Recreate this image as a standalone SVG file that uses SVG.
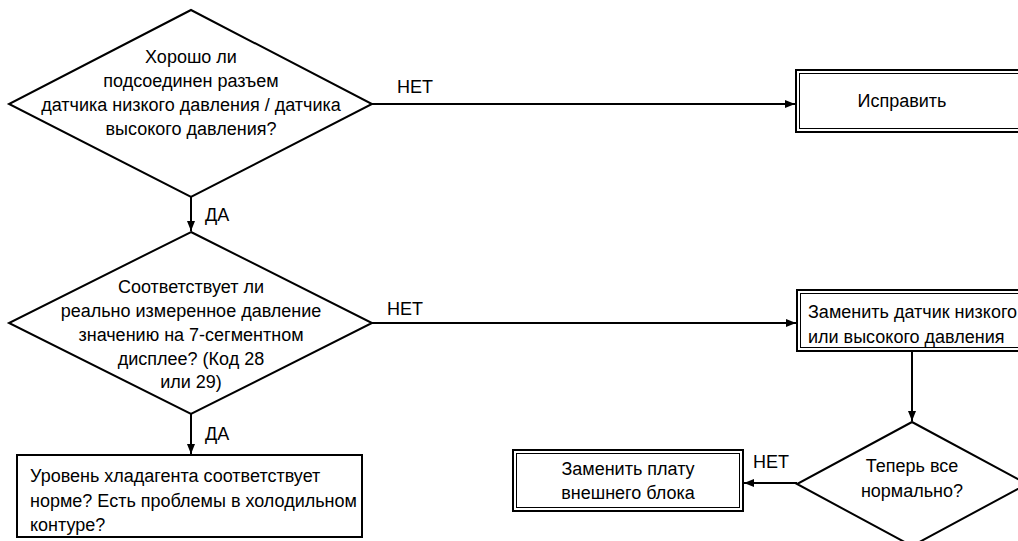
<svg xmlns="http://www.w3.org/2000/svg" width="1018" height="541" viewBox="0 0 1018 541">
<defs>
<style>
.t{font-family:"Liberation Sans Narrow","Arial Narrow","Liberation Sans",Arial,sans-serif;font-size:18px;fill:#000}
.c{text-anchor:middle}
.s{fill:#fff;stroke:#000;stroke-width:2}
.i{fill:none;stroke:#000;stroke-width:1}
.ln{fill:none;stroke:#000;stroke-width:2}
</style>
<marker id="ar" viewBox="0 0 10 8" refX="10" refY="4" markerWidth="10" markerHeight="8" markerUnits="userSpaceOnUse" orient="auto">
<path d="M0,0 L10,4 L0,8 z" fill="#000"/>
</marker>
</defs>
<rect width="1018" height="541" fill="#fff"/>
<g id="connectors">
<line class="ln" x1="372" y1="104" x2="795" y2="104" marker-end="url(#ar)"/>
<line class="ln" x1="191" y1="197" x2="191" y2="231" marker-end="url(#ar)"/>
<line class="ln" x1="372" y1="323" x2="796" y2="323" marker-end="url(#ar)"/>
<line class="ln" x1="191" y1="413" x2="191" y2="454" marker-end="url(#ar)"/>
<line class="ln" x1="912" y1="351" x2="912" y2="421" marker-end="url(#ar)"/>
<line class="ln" x1="797" y1="483" x2="744" y2="483" marker-end="url(#ar)"/>
<text class="t" x="397" y="93">НЕТ</text>
<text class="t" x="205" y="221">ДА</text>
<text class="t" x="387" y="315">НЕТ</text>
<text class="t" x="205" y="440">ДА</text>
<text class="t" x="753" y="468">НЕТ</text>
</g>
<g id="d1">
<polygon class="s" points="191,10 372,104 191,197 9,104"/>
<text class="t c" x="191" y="63">Хорошо ли</text>
<text class="t c" x="191" y="87">подсоединен разъем</text>
<text class="t c" x="191" y="111">датчика низкого давления / датчика</text>
<text class="t c" x="191" y="135">высокого давления?</text>
</g>
<g id="fix">
<rect class="s" x="796" y="70" width="240" height="62"/>
<rect class="i" x="799.5" y="73.5" width="240" height="55"/>
<text class="t c" x="902" y="107">Исправить</text>
</g>
<g id="d2">
<polygon class="s" points="191,232 372,323 191,414 9,323"/>
<text class="t c" x="191" y="293">Соответствует ли</text>
<text class="t c" x="191" y="317">реально измеренное давление</text>
<text class="t c" x="191" y="341">значению на 7-сегментном</text>
<text class="t c" x="191" y="365">дисплее? (Код 28</text>
<text class="t c" x="191" y="388">или 29)</text>
</g>
<g id="replace-sensor">
<rect class="s" x="797" y="290" width="240" height="61"/>
<rect class="i" x="800.5" y="293.5" width="240" height="54"/>
<text class="t" x="808" y="318">Заменить датчик низкого</text>
<text class="t" x="808" y="343">или высокого давления</text>
</g>
<g id="refrigerant">
<rect class="s" x="17" y="455" width="345" height="82"/>
<text class="t" x="30" y="482">Уровень хладагента соответствует</text>
<text class="t" x="30" y="507">норме? Есть проблемы в холодильном</text>
<text class="t" x="30" y="531">контуре?</text>
</g>
<g id="d3">
<polygon class="s" points="912,422 1027,484 912,546 797,484"/>
<text class="t c" x="912" y="472">Теперь все</text>
<text class="t c" x="912" y="497">нормально?</text>
</g>
<g id="replace-board">
<rect class="s" x="513" y="450" width="230" height="61"/>
<rect class="i" x="516.5" y="453.5" width="223" height="54"/>
<text class="t c" x="628" y="475">Заменить плату</text>
<text class="t c" x="628" y="499">внешнего блока</text>
</g>
</svg>
